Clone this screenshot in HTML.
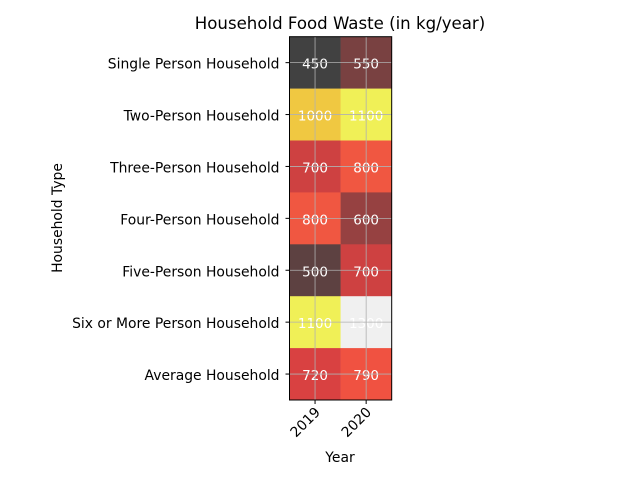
<!DOCTYPE html>
<html><head><meta charset="utf-8"><style>
body{margin:0;background:#fff;font-family:"DejaVu Sans","Liberation Sans",sans-serif;}
</style></head><body>
<svg id="chart" width="640" height="480" xmlns="http://www.w3.org/2000/svg" font-family="DejaVu Sans, Liberation Sans, sans-serif">
<text x="340" y="29" text-anchor="middle" font-size="16.6">Household Food Waste (in kg/year)</text>
<g id="cells"></g><g id="labels"></g><g id="grid"></g><g id="ticks"></g>
<text x="340" y="462" text-anchor="middle" font-size="13.9">Year</text>
<text transform="translate(62,218) rotate(-90)" text-anchor="middle" font-size="13.9">Household Type</text>
</svg>
<script>
const years = ["2019","2020"];
const households = ["Single Person Household","Two-Person Household","Three-Person Household","Four-Person Household","Five-Person Household","Six or More Person Household","Average Household"];
const waste2019 = [450,1000,700,800,500,1100,720];
const waste2020 = [550,1100,800,600,700,1300,790];

const NS="http://www.w3.org/2000/svg";
const L=289.5,R=391.7,T=36.7,B=400;
const cw=(R-L)/years.length, rh=(B-T)/households.length;
const xC=i=>L+cw*(i+0.5), yC=j=>T+rh*(j+0.5);
const series=[waste2019,waste2020];
const all=series.flat(), vmin=Math.min(...all), vmax=Math.max(...all);
function color(v){
  const t=(v-vmin)/(vmax-vmin);
  const cl=x=>Math.max(0,Math.min(1,x));
  const r=cl(t/0.365), g=cl((t-0.365)/0.365), b=cl((t-0.73)/0.27);
  const f=c=>Math.round(c*175+65);
  return `rgb(${f(r)},${f(g)},${f(b)})`;
}
function mk(tag,attrs,parent,txt){const e=document.createElementNS(NS,tag);for(const k in attrs)e.setAttribute(k,attrs[k]);if(txt!==undefined)e.textContent=txt;document.getElementById(parent).appendChild(e);return e;}
series.forEach((s,i)=>s.forEach((v,j)=>{
  const r=mk('rect',{x:L+cw*i,y:T+rh*j,width:cw+0.3,height:rh+0.3,fill:color(v)},'cells');
  
  
  const t=mk('text',{x:xC(i),y:yC(j)+6,'text-anchor':'middle','font-size':13.5,fill:'#fff'},'labels',String(v));
  
  
}));
years.forEach((y,i)=>{
  mk('line',{x1:xC(i),x2:xC(i),y1:T,y2:B,stroke:'#b0b0b0','stroke-width':0.8},'grid');
  mk('line',{x1:xC(i),x2:xC(i),y1:B,y2:B+4,stroke:'#000'},'ticks');
  const t=mk('text',{transform:`translate(${xC(i)+6},${B+13}) rotate(-45)`,'text-anchor':'end','font-size':13.9},'ticks',y);
  
  
});
households.forEach((h,j)=>{
  mk('line',{x1:L,x2:R,y1:yC(j),y2:yC(j),stroke:'#b0b0b0','stroke-width':0.8},'grid');
  mk('line',{x1:L-4,x2:L,y1:yC(j),y2:yC(j),stroke:'#000'},'ticks');
  const t=mk('text',{x:L-10,y:yC(j)+6,'text-anchor':'end','font-size':13.9},'ticks',h);
  
  
});
mk('rect',{x:L,y:T,width:R-L,height:B-T,fill:'none',stroke:'#000','stroke-width':1},'ticks');
</script>
</body></html>
